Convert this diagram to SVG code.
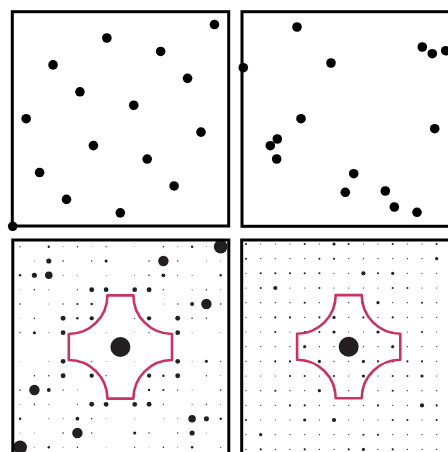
<svg xmlns="http://www.w3.org/2000/svg" xmlns:xlink="http://www.w3.org/1999/xlink" width="448" height="452" viewBox="0 0 448 452">
<style>
.frame{fill:none;stroke:#000;stroke-width:3}
.pt{fill:#000}
.sp{fill:#231f20}
.zone{fill:none;stroke:#c73463;stroke-width:2.6;stroke-linejoin:round}
</style>
<defs>
<circle id="t" r="0.6" fill="#231f20"/>
<circle id="s" r="1.05" fill="#231f20"/>
<circle id="m" r="1.6" fill="#231f20"/>
<circle id="L" r="2.1" fill="#231f20"/>
</defs>
<rect width="448" height="452" fill="#fff"/>

<g id="panel-top-left">
<rect class="frame" x="12.3" y="11.7" width="216.4" height="214.3"/>
<g class="pt">
<circle cx="12.7" cy="226.3" r="4.8"/>
<circle cx="26.15" cy="118.7" r="4.8"/>
<circle cx="39.6" cy="172.5" r="4.8"/>
<circle cx="53.05" cy="64.9" r="4.8"/>
<circle cx="66.5" cy="199.4" r="4.8"/>
<circle cx="79.95" cy="91.8" r="4.8"/>
<circle cx="93.4" cy="145.6" r="4.8"/>
<circle cx="106.85" cy="38.0" r="4.8"/>
<circle cx="120.3" cy="212.85" r="4.8"/>
<circle cx="133.75" cy="105.25" r="4.8"/>
<circle cx="147.2" cy="159.05" r="4.8"/>
<circle cx="160.65" cy="51.45" r="4.8"/>
<circle cx="174.1" cy="185.95" r="4.8"/>
<circle cx="187.55" cy="78.35" r="4.8"/>
<circle cx="201.0" cy="132.15" r="4.8"/>
<circle cx="214.45" cy="24.55" r="4.8"/>
</g>
</g>

<g id="panel-top-right">
<rect class="frame" x="242" y="11.7" width="216" height="214.6"/>
<g class="pt">
<circle cx="297" cy="27" r="4.8"/>
<circle cx="243.3" cy="67.7" r="4.8"/>
<circle cx="331" cy="63" r="4.8"/>
<circle cx="422.3" cy="47" r="4.8"/>
<circle cx="432.3" cy="53.7" r="4.8"/>
<circle cx="445.7" cy="50.7" r="4.8"/>
<circle cx="301" cy="118.7" r="4.8"/>
<circle cx="277.3" cy="139" r="4.8"/>
<circle cx="270.3" cy="145.7" r="4.8"/>
<circle cx="276.7" cy="159" r="4.8"/>
<circle cx="434.7" cy="128.7" r="4.8"/>
<circle cx="353.7" cy="173.7" r="4.8"/>
<circle cx="345.3" cy="192.3" r="4.8"/>
<circle cx="385.3" cy="191" r="4.8"/>
<circle cx="394.3" cy="207" r="4.8"/>
<circle cx="417" cy="212.3" r="4.8"/>
</g>
</g>

<g id="panel-bottom-left">
<g class="sp">
<!-- v=-7 -->
<circle cx="20.1" cy="246.7" r="0.59"/><circle cx="48.8" cy="246.7" r="1.2"/><circle cx="63.1" cy="246.7" r="0.48"/><circle cx="77.4" cy="246.7" r="0.75"/><circle cx="91.7" cy="246.7" r="0.41"/><circle cx="106.1" cy="246.7" r="0.66"/><circle cx="134.7" cy="246.7" r="0.41"/><circle cx="163.4" cy="246.7" r="0.75"/><circle cx="177.7" cy="246.7" r="0.48"/><circle cx="192.1" cy="246.7" r="1.2"/><circle cx="206.4" cy="246.7" r="0.45"/><circle cx="220.7" cy="246.7" r="6.88"/>
<!-- v=-6 -->
<circle cx="34.4" cy="261" r="0.45"/><circle cx="48.8" cy="261" r="2.57"/><circle cx="63.1" cy="261" r="0.75"/><circle cx="91.7" cy="261" r="0.7"/><circle cx="106.1" cy="261" r="1.55"/><circle cx="149.1" cy="261" r="0.7"/><circle cx="163.4" cy="261" r="5.24"/><circle cx="177.7" cy="261" r="0.75"/><circle cx="206.4" cy="261" r="0.45"/><circle cx="220.7" cy="261" r="0.45"/>
<!-- v=-5 -->
<circle cx="20.1" cy="275.3" r="1.2"/><circle cx="34.4" cy="275.3" r="2.57"/><circle cx="48.8" cy="275.3" r="3.74"/><circle cx="63.1" cy="275.3" r="0.51"/><circle cx="77.4" cy="275.3" r="0.44"/><circle cx="106.1" cy="275.3" r="0.43"/><circle cx="134.7" cy="275.3" r="0.43"/><circle cx="149.1" cy="275.3" r="0.77"/><circle cx="163.4" cy="275.3" r="1.89"/><circle cx="177.7" cy="275.3" r="0.51"/><circle cx="192.1" cy="275.3" r="0.5"/><circle cx="220.7" cy="275.3" r="1.2"/>
<!-- v=-4 -->
<circle cx="20.1" cy="289.7" r="0.48"/><circle cx="34.4" cy="289.7" r="0.75"/><circle cx="48.8" cy="289.7" r="0.51"/><circle cx="77.4" cy="289.7" r="0.64"/><circle cx="91.7" cy="289.7" r="2.45"/><circle cx="106.1" cy="289.7" r="2.37"/><circle cx="134.7" cy="289.7" r="2.37"/><circle cx="149.1" cy="289.7" r="2.45"/><circle cx="163.4" cy="289.7" r="0.64"/><circle cx="192.1" cy="289.7" r="0.51"/><circle cx="206.4" cy="289.7" r="0.75"/><circle cx="220.7" cy="289.7" r="0.48"/>
<!-- v=-3 -->
<circle cx="20.1" cy="304" r="0.76"/><circle cx="48.8" cy="304" r="0.44"/><circle cx="63.1" cy="304" r="0.64"/><circle cx="77.4" cy="304" r="1.07"/><circle cx="91.7" cy="304" r="1.23"/><circle cx="106.1" cy="304" r="0.41"/><circle cx="134.7" cy="304" r="0.41"/><circle cx="163.4" cy="304" r="0.42"/><circle cx="177.7" cy="304" r="0.64"/><circle cx="192.1" cy="304" r="1.89"/><circle cx="206.4" cy="304" r="5.24"/><circle cx="220.7" cy="304" r="0.76"/>
<!-- v=-2 -->
<circle cx="20.1" cy="318.3" r="0.41"/><circle cx="34.4" cy="318.3" r="0.7"/><circle cx="63.1" cy="318.3" r="2.45"/><circle cx="77.4" cy="318.3" r="1.23"/><circle cx="91.7" cy="318.3" r="2.15"/><circle cx="134.7" cy="318.3" r="0.6"/><circle cx="149.1" cy="318.3" r="2.15"/><circle cx="177.7" cy="318.3" r="2.45"/><circle cx="192.1" cy="318.3" r="0.77"/><circle cx="206.4" cy="318.3" r="0.7"/>
<!-- v=-1 -->
<circle cx="20.1" cy="332.7" r="0.66"/><circle cx="34.4" cy="332.7" r="1.55"/><circle cx="48.8" cy="332.7" r="0.43"/><circle cx="63.1" cy="332.7" r="2.37"/><circle cx="77.4" cy="332.7" r="0.41"/><circle cx="106.1" cy="332.7" r="0.4"/><circle cx="134.7" cy="332.7" r="0.41"/><circle cx="149.1" cy="332.7" r="0.6"/><circle cx="163.4" cy="332.7" r="0.41"/><circle cx="177.7" cy="332.7" r="2.37"/><circle cx="192.1" cy="332.7" r="0.43"/><circle cx="220.7" cy="332.7" r="0.41"/>
<!-- v=0 -->
<circle cx="120.4" cy="347" r="10"/>
<!-- v=1 -->
<circle cx="20.1" cy="361.3" r="0.41"/><circle cx="48.8" cy="361.3" r="0.43"/><circle cx="63.1" cy="361.3" r="2.37"/><circle cx="77.4" cy="361.3" r="0.41"/><circle cx="91.7" cy="361.3" r="0.6"/><circle cx="106.1" cy="361.3" r="0.41"/><circle cx="134.7" cy="361.3" r="0.4"/><circle cx="163.4" cy="361.3" r="0.41"/><circle cx="177.7" cy="361.3" r="2.37"/><circle cx="192.1" cy="361.3" r="0.43"/><circle cx="206.4" cy="361.3" r="1.55"/><circle cx="220.7" cy="361.3" r="0.66"/>
<!-- v=2 -->
<circle cx="34.4" cy="375.7" r="0.7"/><circle cx="48.8" cy="375.7" r="0.77"/><circle cx="63.1" cy="375.7" r="2.45"/><circle cx="91.7" cy="375.7" r="2.15"/><circle cx="106.1" cy="375.7" r="0.6"/><circle cx="149.1" cy="375.7" r="2.15"/><circle cx="163.4" cy="375.7" r="1.23"/><circle cx="177.7" cy="375.7" r="2.45"/><circle cx="206.4" cy="375.7" r="0.7"/><circle cx="220.7" cy="375.7" r="0.41"/>
<!-- v=3 -->
<circle cx="20.1" cy="390" r="0.76"/><circle cx="34.4" cy="390" r="5.24"/><circle cx="48.8" cy="390" r="1.89"/><circle cx="63.1" cy="390" r="0.64"/><circle cx="77.4" cy="390" r="0.42"/><circle cx="106.1" cy="390" r="0.41"/><circle cx="134.7" cy="390" r="0.41"/><circle cx="149.1" cy="390" r="1.23"/><circle cx="163.4" cy="390" r="1.07"/><circle cx="177.7" cy="390" r="0.64"/><circle cx="192.1" cy="390" r="0.44"/><circle cx="220.7" cy="390" r="0.76"/>
<!-- v=4 -->
<circle cx="20.1" cy="404.3" r="0.48"/><circle cx="34.4" cy="404.3" r="0.75"/><circle cx="48.8" cy="404.3" r="0.51"/><circle cx="77.4" cy="404.3" r="0.64"/><circle cx="91.7" cy="404.3" r="2.45"/><circle cx="106.1" cy="404.3" r="2.37"/><circle cx="134.7" cy="404.3" r="2.37"/><circle cx="149.1" cy="404.3" r="2.45"/><circle cx="163.4" cy="404.3" r="0.64"/><circle cx="192.1" cy="404.3" r="0.51"/><circle cx="206.4" cy="404.3" r="0.75"/><circle cx="220.7" cy="404.3" r="0.48"/>
<!-- v=5 -->
<circle cx="20.1" cy="418.7" r="1.2"/><circle cx="48.8" cy="418.7" r="0.5"/><circle cx="63.1" cy="418.7" r="0.51"/><circle cx="77.4" cy="418.7" r="1.89"/><circle cx="91.7" cy="418.7" r="0.77"/><circle cx="106.1" cy="418.7" r="0.43"/><circle cx="134.7" cy="418.7" r="0.43"/><circle cx="163.4" cy="418.7" r="0.44"/><circle cx="177.7" cy="418.7" r="0.51"/><circle cx="192.1" cy="418.7" r="3.74"/><circle cx="206.4" cy="418.7" r="2.57"/><circle cx="220.7" cy="418.7" r="1.2"/>
<!-- v=6 -->
<circle cx="20.1" cy="433" r="0.45"/><circle cx="34.4" cy="433" r="0.45"/><circle cx="63.1" cy="433" r="0.75"/><circle cx="77.4" cy="433" r="5.24"/><circle cx="91.7" cy="433" r="0.7"/><circle cx="134.7" cy="433" r="1.55"/><circle cx="149.1" cy="433" r="0.7"/><circle cx="177.7" cy="433" r="0.75"/><circle cx="192.1" cy="433" r="2.57"/><circle cx="206.4" cy="433" r="0.45"/>
<!-- v=7 -->
<circle cx="20.1" cy="447.3" r="6.88"/><circle cx="34.4" cy="447.3" r="0.45"/><circle cx="48.8" cy="447.3" r="1.2"/><circle cx="63.1" cy="447.3" r="0.48"/><circle cx="77.4" cy="447.3" r="0.75"/><circle cx="106.1" cy="447.3" r="0.41"/><circle cx="134.7" cy="447.3" r="0.66"/><circle cx="149.1" cy="447.3" r="0.41"/><circle cx="163.4" cy="447.3" r="0.75"/><circle cx="177.7" cy="447.3" r="0.48"/><circle cx="192.1" cy="447.3" r="1.2"/><circle cx="220.7" cy="447.3" r="0.59"/>
</g>
<path class="zone" d="M107.4,295.4 L133.4,295.4 A38.6,38.6 0 0 0 172,334 L172,360 A38.6,38.6 0 0 0 133.4,398.6 L107.4,398.6 A38.6,38.6 0 0 0 68.8,360 L68.8,334 A38.6,38.6 0 0 0 107.4,295.4 Z"/>
<rect class="frame" x="12.8" y="240" width="216" height="216"/>
</g>

<g id="panel-bottom-right">
<!-- v=-7 y=244 -->
<use href="#s" x="246" y="244"/><use href="#t" x="260.7" y="244"/><use href="#t" x="275.3" y="244"/><use href="#t" x="290" y="244"/><use href="#s" x="304.7" y="244"/><use href="#t" x="319.4" y="244"/><use href="#m" x="334" y="244"/><use href="#s" x="348.7" y="244"/><use href="#t" x="363.4" y="244"/><use href="#t" x="378" y="244"/><use href="#s" x="392.7" y="244"/><use href="#t" x="407.4" y="244"/><use href="#t" x="422" y="244"/><use href="#s" x="436.7" y="244"/>
<!-- v=-6 y=258.7 -->
<use href="#s" x="246" y="258.7"/><use href="#t" x="260.7" y="258.7"/><use href="#t" x="275.3" y="258.7"/><use href="#t" x="290" y="258.7"/><use href="#t" x="304.7" y="258.7"/><use href="#s" x="319.4" y="258.7"/><use href="#s" x="334" y="258.7"/><use href="#t" x="348.7" y="258.7"/><use href="#t" x="363.4" y="258.7"/><use href="#t" x="378" y="258.7"/><use href="#t" x="392.7" y="258.7"/><use href="#t" x="407.4" y="258.7"/><use href="#t" x="422" y="258.7"/><use href="#m" x="436.7" y="258.7"/>
<!-- v=-5 y=273.3 -->
<use href="#t" x="246" y="273.3"/><use href="#s" x="260.7" y="273.3"/><use href="#s" x="275.3" y="273.3"/><use href="#s" x="290" y="273.3"/><use href="#s" x="304.7" y="273.3"/><use href="#s" x="319.4" y="273.3"/><use href="#t" x="334" y="273.3"/><use href="#t" x="348.7" y="273.3"/><use href="#L" x="363.4" y="273.3"/><use href="#s" x="378" y="273.3"/><use href="#m" x="392.7" y="273.3"/><use href="#t" x="407.4" y="273.3"/><use href="#t" x="422" y="273.3"/><use href="#t" x="436.7" y="273.3"/>
<!-- v=-4 y=288 -->
<use href="#t" x="246" y="288"/><use href="#s" x="260.7" y="288"/><use href="#L" x="275.3" y="288"/><use href="#t" x="290" y="288"/><use href="#t" x="304.7" y="288"/><use href="#s" x="319.4" y="288"/><use href="#t" x="334" y="288"/><use href="#t" x="348.7" y="288"/><use href="#t" x="363.4" y="288"/><use href="#t" x="378" y="288"/><use href="#s" x="392.7" y="288"/><use href="#s" x="407.4" y="288"/><use href="#t" x="422" y="288"/><use href="#t" x="436.7" y="288"/>
<!-- v=-3 y=302.7 -->
<use href="#t" x="246" y="302.7"/><use href="#t" x="260.7" y="302.7"/><use href="#t" x="275.3" y="302.7"/><use href="#t" x="290" y="302.7"/><use href="#s" x="304.7" y="302.7"/><use href="#t" x="319.4" y="302.7"/><use href="#t" x="334" y="302.7"/><use href="#t" x="348.7" y="302.7"/><use href="#t" x="363.4" y="302.7"/><use href="#m" x="378" y="302.7"/><use href="#t" x="392.7" y="302.7"/><use href="#t" x="407.4" y="302.7"/><use href="#s" x="422" y="302.7"/><use href="#t" x="436.7" y="302.7"/>
<!-- v=-2 y=317.4 -->
<use href="#t" x="246" y="317.4"/><use href="#t" x="260.7" y="317.4"/><use href="#s" x="275.3" y="317.4"/><use href="#s" x="290" y="317.4"/><use href="#t" x="304.7" y="317.4"/><use href="#s" x="319.4" y="317.4"/><use href="#m" x="334" y="317.4"/><use href="#t" x="348.7" y="317.4"/><use href="#s" x="363.4" y="317.4"/><use href="#t" x="378" y="317.4"/><use href="#s" x="392.7" y="317.4"/><use href="#t" x="407.4" y="317.4"/><use href="#t" x="422" y="317.4"/><use href="#t" x="436.7" y="317.4"/>
<!-- v=-1 y=332 -->
<use href="#t" x="246" y="332"/><use href="#t" x="260.7" y="332"/><use href="#s" x="275.3" y="332"/><use href="#t" x="290" y="332"/><use href="#s" x="304.7" y="332"/><use href="#s" x="319.4" y="332"/><use href="#m" x="334" y="332"/><use href="#t" x="348.7" y="332"/><use href="#t" x="363.4" y="332"/><use href="#m" x="378" y="332"/><use href="#t" x="392.7" y="332"/><use href="#t" x="407.4" y="332"/><use href="#s" x="422" y="332"/><use href="#t" x="436.7" y="332"/>
<!-- v=0 y=346.7 -->
<use href="#t" x="246" y="346.7"/><use href="#t" x="260.7" y="346.7"/><use href="#t" x="275.3" y="346.7"/><use href="#t" x="290" y="346.7"/><use href="#m" x="304.7" y="346.7"/><use href="#t" x="319.4" y="346.7"/><use href="#t" x="334" y="346.7"/><circle class="sp" cx="348.7" cy="346.7" r="10"/><use href="#t" x="363.4" y="346.7"/><use href="#t" x="378" y="346.7"/><use href="#m" x="392.7" y="346.7"/><use href="#t" x="407.4" y="346.7"/><use href="#t" x="422" y="346.7"/><use href="#t" x="436.7" y="346.7"/>
<!-- v=1 y=361.4 -->
<use href="#t" x="246" y="361.4"/><use href="#t" x="260.7" y="361.4"/><use href="#s" x="275.3" y="361.4"/><use href="#s" x="290" y="361.4"/><use href="#t" x="304.7" y="361.4"/><use href="#m" x="319.4" y="361.4"/><use href="#t" x="334" y="361.4"/><use href="#t" x="348.7" y="361.4"/><use href="#m" x="363.4" y="361.4"/><use href="#s" x="378" y="361.4"/><use href="#s" x="392.7" y="361.4"/><use href="#s" x="407.4" y="361.4"/><use href="#s" x="422" y="361.4"/><use href="#t" x="436.7" y="361.4"/>
<!-- v=2 y=376 -->
<use href="#t" x="246" y="376"/><use href="#t" x="260.7" y="376"/><use href="#t" x="275.3" y="376"/><use href="#s" x="290" y="376"/><use href="#s" x="304.7" y="376"/><use href="#t" x="319.4" y="376"/><use href="#s" x="334" y="376"/><use href="#t" x="348.7" y="376"/><use href="#m" x="363.4" y="376"/><use href="#t" x="378" y="376"/><use href="#s" x="392.7" y="376"/><use href="#s" x="407.4" y="376"/><use href="#m" x="422" y="376"/><use href="#t" x="436.7" y="376"/>
<!-- v=3 y=390.7 -->
<use href="#t" x="246" y="390.7"/><use href="#t" x="260.7" y="390.7"/><use href="#s" x="275.3" y="390.7"/><use href="#t" x="290" y="390.7"/><use href="#t" x="304.7" y="390.7"/><use href="#m" x="319.4" y="390.7"/><use href="#t" x="334" y="390.7"/><use href="#t" x="348.7" y="390.7"/><use href="#t" x="363.4" y="390.7"/><use href="#t" x="378" y="390.7"/><use href="#s" x="392.7" y="390.7"/><use href="#t" x="407.4" y="390.7"/><use href="#t" x="422" y="390.7"/><use href="#t" x="436.7" y="390.7"/>
<!-- v=4 y=405.4 -->
<use href="#t" x="246" y="405.4"/><use href="#t" x="260.7" y="405.4"/><use href="#t" x="275.3" y="405.4"/><use href="#s" x="290" y="405.4"/><use href="#s" x="304.7" y="405.4"/><use href="#t" x="319.4" y="405.4"/><use href="#t" x="334" y="405.4"/><use href="#t" x="348.7" y="405.4"/><use href="#t" x="363.4" y="405.4"/><use href="#s" x="378" y="405.4"/><use href="#t" x="392.7" y="405.4"/><use href="#t" x="407.4" y="405.4"/><use href="#L" x="422" y="405.4"/><use href="#s" x="436.7" y="405.4"/>
<!-- v=5 y=420 -->
<use href="#s" x="246" y="420"/><use href="#t" x="260.7" y="420"/><use href="#t" x="275.3" y="420"/><use href="#t" x="290" y="420"/><use href="#m" x="304.7" y="420"/><use href="#t" x="319.4" y="420"/><use href="#L" x="334" y="420"/><use href="#t" x="348.7" y="420"/><use href="#t" x="363.4" y="420"/><use href="#t" x="378" y="420"/><use href="#s" x="392.7" y="420"/><use href="#s" x="407.4" y="420"/><use href="#t" x="422" y="420"/><use href="#s" x="436.7" y="420"/>
<!-- v=6 y=434.7 -->
<use href="#t" x="246" y="434.7"/><use href="#m" x="260.7" y="434.7"/><use href="#t" x="275.3" y="434.7"/><use href="#t" x="290" y="434.7"/><use href="#t" x="304.7" y="434.7"/><use href="#t" x="319.4" y="434.7"/><use href="#t" x="334" y="434.7"/><use href="#t" x="348.7" y="434.7"/><use href="#s" x="363.4" y="434.7"/><use href="#s" x="378" y="434.7"/><use href="#t" x="392.7" y="434.7"/><use href="#t" x="407.4" y="434.7"/><use href="#t" x="422" y="434.7"/><use href="#t" x="436.7" y="434.7"/>
<!-- v=7 y=449.4 -->
<use href="#t" x="246" y="449.4"/><use href="#s" x="260.7" y="449.4"/><use href="#t" x="275.3" y="449.4"/><use href="#t" x="290" y="449.4"/><use href="#s" x="304.7" y="449.4"/><use href="#t" x="319.4" y="449.4"/><use href="#t" x="334" y="449.4"/><use href="#s" x="348.7" y="449.4"/><use href="#m" x="363.4" y="449.4"/><use href="#t" x="378" y="449.4"/><use href="#s" x="392.7" y="449.4"/><use href="#t" x="407.4" y="449.4"/><use href="#t" x="422" y="449.4"/><use href="#t" x="436.7" y="449.4"/>
<path class="zone" d="M335.7,295.1 L361.7,295.1 A38.6,38.6 0 0 0 400.3,333.7 L400.3,359.7 A38.6,38.6 0 0 0 361.7,398.3 L335.7,398.3 A38.6,38.6 0 0 0 297.1,359.7 L297.1,333.7 A38.6,38.6 0 0 0 335.7,295.1 Z"/>
<rect class="frame" x="241.7" y="240" width="216" height="216"/>
</g>
</svg>
